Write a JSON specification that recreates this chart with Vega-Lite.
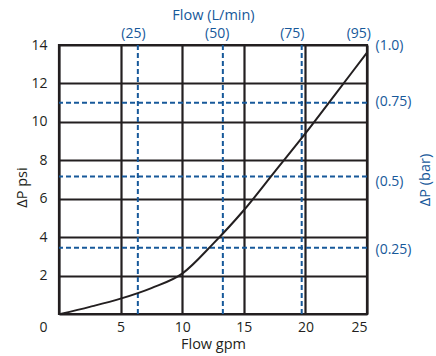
{
  "$schema": "https://vega.github.io/schema/vega-lite/v6.json",
  "width": 308,
  "height": 269,
  "autosize": {"type": "none"},
  "padding": {"left": 59, "top": 45, "right": 69, "bottom": 42},
  "config": {
    "view": {"stroke": "#231f20", "strokeWidth": 2.2},
    "font": "Open Sans",
    "axis": {"labelFont": "Open Sans", "titleFont": "Open Sans", "titleFontWeight": "normal", "labelFontSize": 14, "titleFontSize": 14.5, "ticks": false, "domain": false}
  },
  "datasets": {
    "curve": [
      {"gpm": 0.1, "psi": 0},
      {"gpm": 2.5, "psi": 0.37},
      {"gpm": 5, "psi": 0.8},
      {"gpm": 7.5, "psi": 1.35},
      {"gpm": 10, "psi": 2.1},
      {"gpm": 12.5, "psi": 3.65},
      {"gpm": 15, "psi": 5.4},
      {"gpm": 17.5, "psi": 7.4},
      {"gpm": 20, "psi": 9.4},
      {"gpm": 22.5, "psi": 11.5},
      {"gpm": 25, "psi": 13.6}
    ],
    "vlines": [{"gpm": 6.4}, {"gpm": 13.3}, {"gpm": 19.7}],
    "hlines": [{"psi": 3.45}, {"psi": 7.15}, {"psi": 11.0}]
  },
  "layer": [
    {
      "data": {"name": "vlines"},
      "mark": {"type": "rule", "color": "#17599a", "strokeWidth": 2, "strokeDash": [5, 3]},
      "encoding": {
        "x": {
          "field": "gpm", "type": "quantitative",
          "scale": {"domain": [0, 25], "nice": false},
          "axis": {
            "orient": "top", "title": "Flow (L/min)", "grid": false,
            "values": [6.0, 12.8, 18.9, 24.3],
            "labelExpr": "datum.value < 8 ? '(25)' : datum.value < 15 ? '(50)' : datum.value < 20 ? '(75)' : '(95)'",
            "labelColor": "#17599a", "titleColor": "#17599a", "labelPadding": 5, "titlePadding": 4
          }
        }
      }
    },
    {
      "data": {"name": "hlines"},
      "mark": {"type": "rule", "color": "#17599a", "strokeWidth": 2, "strokeDash": [5, 3]},
      "encoding": {
        "y": {
          "field": "psi", "type": "quantitative",
          "scale": {"domain": [0, 14], "nice": false},
          "axis": {
            "orient": "right", "title": "ΔP (bar)", "grid": false,
            "values": [3.38, 6.92, 11.04, 13.95],
            "labelExpr": "datum.value < 5 ? '(0.25)' : datum.value < 9 ? '(0.5)' : datum.value < 12 ? '(0.75)' : '(1.0)'",
            "labelColor": "#17599a", "titleColor": "#17599a", "labelPadding": 8, "titleAngle": 270, "titlePadding": 22
          }
        }
      }
    },
    {
      "data": {"name": "curve"},
      "mark": {"type": "line", "color": "#231f20", "strokeWidth": 2, "interpolate": "monotone"},
      "encoding": {
        "x": {
          "field": "gpm", "type": "quantitative",
          "scale": {"domain": [0, 25], "nice": false},
          "axis": {
            "orient": "bottom", "title": "Flow gpm", "values": [0, 5, 10, 15, 20, 25],
            "labelExpr": "datum.value == 0 ? '' : datum.label",
            "grid": true, "gridColor": "#231f20", "gridWidth": 2.2, "gridOpacity": 1,
            "labelColor": "#231f20", "titleColor": "#231f20", "labelPadding": 6, "titlePadding": 3
          }
        },
        "y": {
          "field": "psi", "type": "quantitative",
          "scale": {"domain": [0, 14], "nice": false},
          "axis": {
            "orient": "left", "title": "ΔP psi", "values": [0, 2, 4, 6, 8, 10, 12, 14],
            "grid": true, "gridColor": "#231f20", "gridWidth": 2.2, "gridOpacity": 1,
            "labelOffset": {"condition": {"test": "datum.value == 0", "value": 13}, "value": 0},
            "labelColor": "#231f20", "titleColor": "#231f20", "labelPadding": 12, "titlePadding": 1, "titleY": 142
          }
        }
      }
    }
  ],
  "resolve": {"axis": {"x": "independent", "y": "independent"}}
}
